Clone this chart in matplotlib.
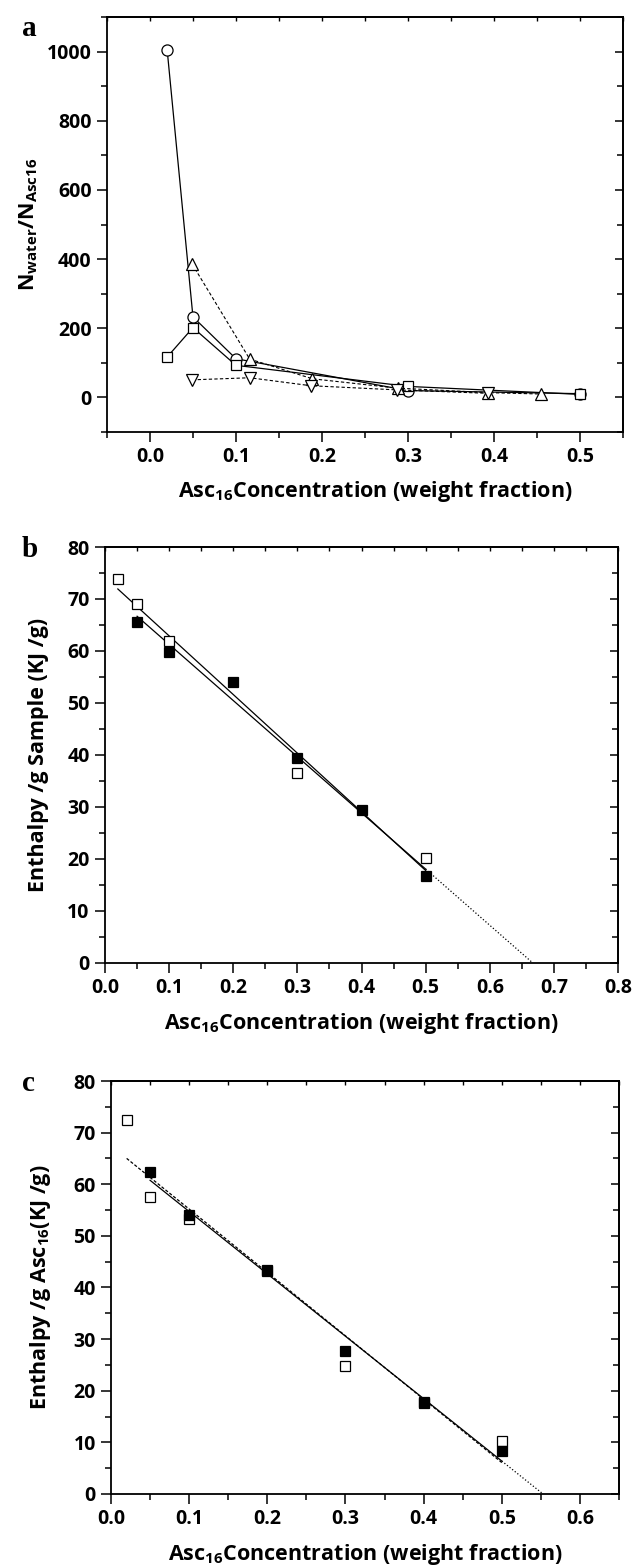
import numpy as np
import matplotlib
matplotlib.use("Agg")
import matplotlib.pyplot as plt
from matplotlib.ticker import MultipleLocator

plt.rcParams['font.family'] = ['Open Sans', 'DejaVu Sans']
plt.rcParams['font.weight'] = 'bold'
plt.rcParams['mathtext.fontset'] = 'custom'
plt.rcParams['mathtext.rm'] = 'Open Sans:bold'
plt.rcParams['mathtext.bf'] = 'Open Sans:bold'
plt.rcParams['mathtext.it'] = 'Open Sans:bold'

# --- panel a: N_water / N_Asc16 ---
a_circle_x = [0.02, 0.05, 0.10, 0.30, 0.50]
a_circle_y = [1005, 233, 112, 20, 11]
a_square_x = [0.02, 0.05, 0.10, 0.30, 0.50]
a_square_y = [117, 202, 93, 32, 9]
a_up_x = [0.049, 0.116, 0.189, 0.288, 0.393, 0.455]
a_up_y = [386, 111, 54, 27, 14, 10]
a_down_x = [0.049, 0.116, 0.187, 0.287, 0.393]
a_down_y = [51, 57, 34, 22, 12]

# --- panel b: enthalpy per g sample ---
b_open_x = [0.02, 0.05, 0.10, 0.30, 0.50]
b_open_y = [73.8, 69.1, 61.9, 36.6, 20.1]
b_fill_x = [0.05, 0.10, 0.20, 0.30, 0.40, 0.50]
b_fill_y = [65.5, 59.9, 54.0, 39.5, 29.4, 16.7]

# --- panel c: enthalpy per g Asc16 ---
c_open_x = [0.02, 0.05, 0.10, 0.20, 0.30, 0.40, 0.50]
c_open_y = [72.5, 57.6, 53.2, 43.2, 24.8, 17.9, 10.3]
c_fill_x = [0.05, 0.10, 0.20, 0.30, 0.40, 0.50]
c_fill_y = [62.3, 54.1, 43.3, 27.7, 17.7, 8.4]

xlabel = r'Asc$_{16}$Concentration (weight fraction)'

fig = plt.figure(figsize=(6.33, 15.66), dpi=100)
ax_a = fig.add_axes([0.169, 0.7241, 0.815, 0.265])
ax_b = fig.add_axes([0.1659, 0.3851, 0.8104, 0.2656])
ax_c = fig.add_axes([0.1754, 0.0460, 0.8025, 0.2637])

mk = dict(mfc='white', mec='black', mew=0.9, color='black')

# panel a
ax_a.plot(a_circle_x, a_circle_y, '-', marker='o', ms=8, lw=0.9, **mk)
ax_a.plot(a_square_x, a_square_y, '-', marker='s', ms=7, lw=0.9, **mk)
ax_a.plot(a_up_x, a_up_y, '--', marker='^', ms=9, lw=0.8, dashes=(3, 2), **mk)
ax_a.plot(a_down_x, a_down_y, '--', marker='v', ms=9, lw=0.8, dashes=(3, 2), **mk)
ax_a.set_xlim(-0.05, 0.55)
ax_a.set_ylim(-100, 1100)
ax_a.xaxis.set_major_locator(MultipleLocator(0.1))
ax_a.xaxis.set_minor_locator(MultipleLocator(0.05))
ax_a.yaxis.set_major_locator(MultipleLocator(200))
ax_a.yaxis.set_minor_locator(MultipleLocator(100))
ax_a.set_yticks([0, 200, 400, 600, 800, 1000])
ax_a.set_ylabel(r'N$_{\mathrm{water}}$/N$_{\mathrm{Asc16}}$', fontsize=15.5, fontweight='bold')


def fit_plot(ax, xs, ys, ls, dashes=None, extend=False):
    # straight-line fit over the points, dotted extension down to zero
    k, b = np.polyfit(xs, ys, 1)
    xx = np.array([min(xs), max(xs)])
    if dashes:
        ax.plot(xx, k * xx + b, ls, dashes=dashes, color='black', lw=0.9)
    else:
        ax.plot(xx, k * xx + b, ls, color='black', lw=0.9)
    if extend:
        xe = np.array([max(xs), -b / k])
        ax.plot(xe, k * xe + b, ':', color='black', lw=0.9)


# panel b
fit_plot(ax_b, b_open_x, b_open_y, '-')
fit_plot(ax_b, b_fill_x, b_fill_y, '-', extend=True)
ax_b.plot(b_open_x, b_open_y, 's', ms=7.5, mfc='white', mec='black', mew=0.9, ls='none')
ax_b.plot(b_fill_x, b_fill_y, 's', ms=7.5, mfc='black', mec='black', mew=0.9, ls='none')
ax_b.set_xlim(0, 0.8)
ax_b.set_ylim(0, 80)
ax_b.set_ylabel('Enthalpy /g Sample (KJ /g)', fontsize=15.5, fontweight='bold')

# panel c
fit_plot(ax_c, c_open_x, c_open_y, '--', dashes=(2.5, 1.5))
fit_plot(ax_c, c_fill_x, c_fill_y, '-', extend=True)
ax_c.plot(c_open_x, c_open_y, 's', ms=7.5, mfc='white', mec='black', mew=0.9, ls='none')
ax_c.plot(c_fill_x, c_fill_y, 's', ms=7.5, mfc='black', mec='black', mew=0.9, ls='none')
ax_c.set_xlim(0, 0.65)
ax_c.set_ylim(0, 80)
ax_c.set_ylabel(r'Enthalpy /g Asc$_{16}$(KJ /g)', fontsize=15.5, fontweight='bold')

for ax in (ax_b, ax_c):
    ax.xaxis.set_major_locator(MultipleLocator(0.1))
    ax.xaxis.set_minor_locator(MultipleLocator(0.05))
    ax.yaxis.set_major_locator(MultipleLocator(10))
    ax.yaxis.set_minor_locator(MultipleLocator(5))

for ax in (ax_a, ax_b, ax_c):
    ax.xaxis.set_major_formatter(lambda v, p: f'{v:.1f}')
    for s in ax.spines.values():
        s.set_linewidth(1.3)
    ax.tick_params(which='both', labelsize=14, width=1.1, pad=4)
    ax.tick_params(which='major', length=7)
    ax.tick_params(which='minor', length=4)
    ax.tick_params(axis='x', which='both', direction='out', bottom=True, top=False)
    ax.tick_params(axis='y', which='both', direction='out', left=True)
    for lab in ax.get_xticklabels() + ax.get_yticklabels():
        lab.set_fontweight('bold')
    ax.set_xlabel(xlabel, fontsize=15.5, fontweight='bold', labelpad=9)
    # inward ticks on the right and top spines
    sec = ax.secondary_yaxis('right')
    sec.yaxis.set_major_locator(ax.yaxis.get_major_locator())
    sec.yaxis.set_minor_locator(ax.yaxis.get_minor_locator())
    sec.tick_params(which='both', direction='in', width=1.1, labelright=False)
    sec.tick_params(which='major', length=6)
    sec.tick_params(which='minor', length=4)
    sec.spines['right'].set_linewidth(1.3)
    secx = ax.secondary_xaxis('top')
    secx.xaxis.set_major_locator(ax.xaxis.get_major_locator())
    secx.xaxis.set_minor_locator(ax.xaxis.get_minor_locator())
    secx.tick_params(which='both', direction='in', width=1.0, length=3, labeltop=False)
    secx.spines['top'].set_linewidth(1.3)

ax_a.yaxis.set_label_coords(-0.13, 0.5)
ax_b.yaxis.set_label_coords(-0.11, 0.5)
ax_c.yaxis.set_label_coords(-0.115, 0.5)
ax_a.xaxis.set_label_coords(0.52, -0.112)

for lbl, y in (('a', 0.9905), ('b', 0.6575), ('c', 0.3165)):
    fig.text(0.034, y, lbl, family='Liberation Serif', fontweight='bold',
             fontsize=21, va='top', ha='left')

fig.savefig('out.png', dpi=100)
